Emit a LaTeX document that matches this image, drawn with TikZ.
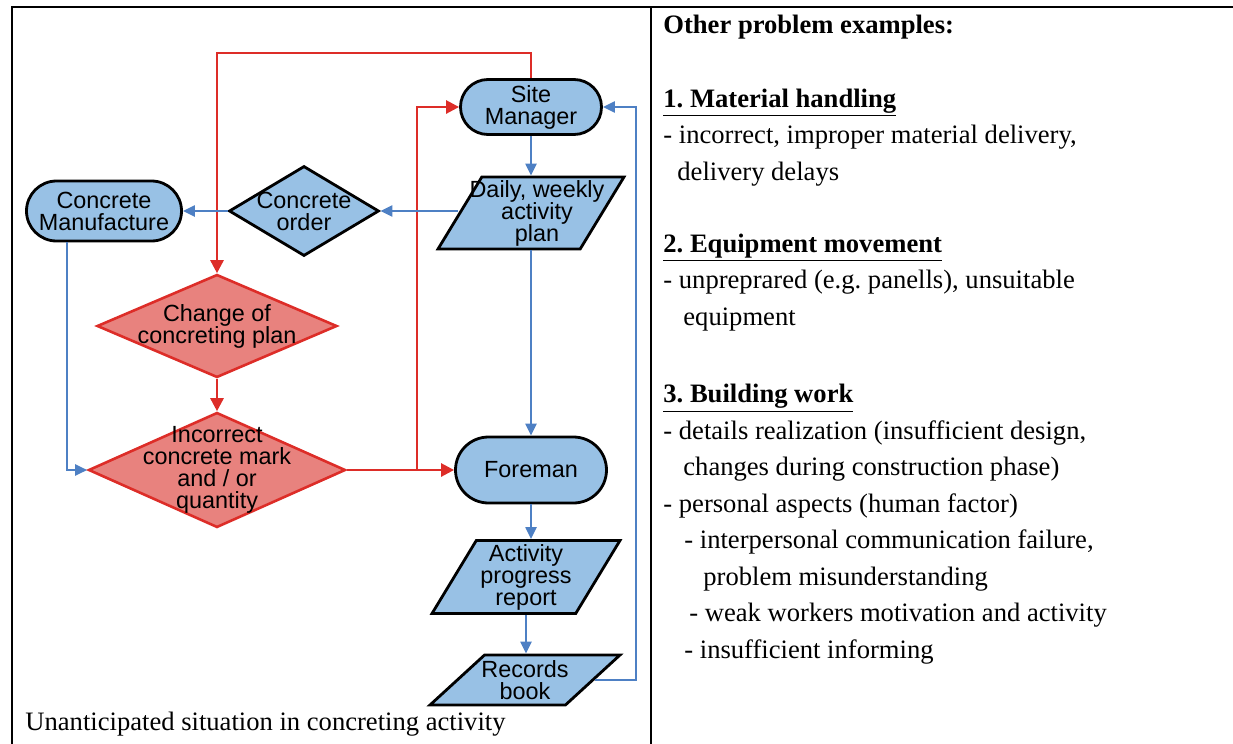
\documentclass[tikz,border=0pt]{standalone}
\usepackage{fontspec}
\setmainfont{Liberation Serif}
\newfontfamily\flowfont{Liberation Sans}
\usetikzlibrary{shapes.geometric,shapes.misc,arrows.meta}
\definecolor{flowblue}{RGB}{152,193,229}
\definecolor{flowpink}{RGB}{232,130,126}
\definecolor{linered}{RGB}{221,45,40}
\definecolor{lineblue}{RGB}{78,128,196}
\frenchspacing
\begin{document}
\begin{tikzpicture}[x=0.5pt,y=-0.5pt,
  frame/.style={line width=1.2pt},
  txt/.style={font=\flowfont\fontsize{11.7}{11}\selectfont,align=center,inner sep=0pt},
  term/.style={rounded rectangle,draw=black,line width=1.4pt,fill=flowblue,inner sep=0pt},
  io/.style={trapezium,trapezium stretches=true,draw=black,line width=1.4pt,fill=flowblue,inner sep=1pt},
  ask/.style={diamond,draw=black,line width=1.4pt,fill=flowblue,inner sep=0pt},
  fault/.style={diamond,draw=linered,line width=1.3pt,fill=flowpink,inner sep=0pt},
  blueflow/.style={draw=lineblue,line width=1.1pt,-{Triangle[length=6pt,width=5.5pt]}},
  redflow/.style={draw=linered,line width=1.3pt,-{Triangle[length=6.5pt,width=6.5pt]}},
  prose/.style={font=\fontsize{13.3}{18.25}\selectfont,align=left,inner sep=0pt,anchor=base west}]

\useasboundingbox (0,0) rectangle (1233,744);
\draw[frame] (12,744) -- (12,7) -- (1233,7);
\draw[frame] (651,7) -- (651,744);

\node[term,minimum width=70.5pt,minimum height=27.5pt,label={[txt]center:{Site\\Manager}}] (site) at (531,107) {};
\node[io,trapezium left angle=66,trapezium right angle=114,minimum width=93pt,minimum height=36pt,
  label={[txt,xshift=3pt]center:{Daily, weekly\\activity\\plan}}] (daily) at (531,213) {};
\node[ask,minimum width=75pt,minimum height=45pt,label={[txt]center:{Concrete\\order}}] (order) at (304,211) {};
\node[term,minimum width=77.5pt,minimum height=30pt,label={[txt]center:{Concrete\\Manufacture}}] (mfg) at (104,211) {};
\node[fault,minimum width=120pt,minimum height=51.5pt,label={[txt]center:{Change of\\concreting plan}}] (chg) at (217,326) {};
\node[fault,minimum width=128.5pt,minimum height=57.5pt,label={[txt]center:{Incorrect\\concrete mark\\and / or\\quantity}}] (incor) at (217,470) {};
\node[term,minimum width=75.5pt,minimum height=33pt,label={[txt]center:{Foreman}}] (fore) at (531,470) {};
\node[io,trapezium left angle=66,trapezium right angle=114,minimum width=94pt,minimum height=36.5pt,
  label={[txt]center:{Activity\\progress\\report}}] (act) at (526,577) {};
\node[io,trapezium left angle=56,trapezium right angle=124,minimum width=95pt,minimum height=25pt,
  label={[txt]center:{Records\\book}}] (rec) at (525,680) {};

\coordinate (redtop) at (217,53);
\coordinate (redsplit) at (417,470);
\coordinate (retcorner) at (636,680);

\draw[redflow] (site.north) |- (redtop) -- (chg.north);
\draw[redflow] (chg.south) -- (incor.north);
\draw[redflow] (incor.east) -- (fore.west);
\draw[redflow] (redsplit) |- (site.west);

\foreach \a/\b in {site/daily,daily/fore,fore/act,act/rec}
  \draw[blueflow] (\a.south) -- (\a.south |- \b.north);
\draw[blueflow] (daily.west |- order.east) -- (order.east);
\draw[blueflow] (order.west) -- (mfg.east);
\draw[blueflow] (mfg.south) ++(-37,0) |- (incor.west);
\draw[blueflow] (rec.east) -- (retcorner) |- (site.east);

\node[prose] (capt) at (25,730) {Unanticipated situation in concreting activity};

\node[prose] (hdr) at (663,33) {\textbf{Other problem examples:}};
\node[prose] (mat) at (663,180) {\underline{\textbf{1. Material handling}}\\
  - incorrect, improper material delivery,\\
  \hspace*{7pt}delivery delays};
\node[prose] (equ) at (663,325) {\underline{\textbf{2. Equipment movement}}\\
  - unpreprared (e.g. panells), unsuitable\\
  \hspace*{10pt}equipment};
\node[prose] (bld) at (663,658) {\underline{\textbf{3. Building work}}\\
  - details realization (insufficient design,\\
  \hspace*{10pt}changes during construction phase)\\
  - personal aspects (human factor)\\
  \hspace*{10.5pt}- interpersonal communication failure,\\
  \hspace*{20pt}problem misunderstanding\\
  \hspace*{13pt}- weak workers motivation and activity\\
  \hspace*{10.5pt}- insufficient informing};
\end{tikzpicture}
\end{document}
